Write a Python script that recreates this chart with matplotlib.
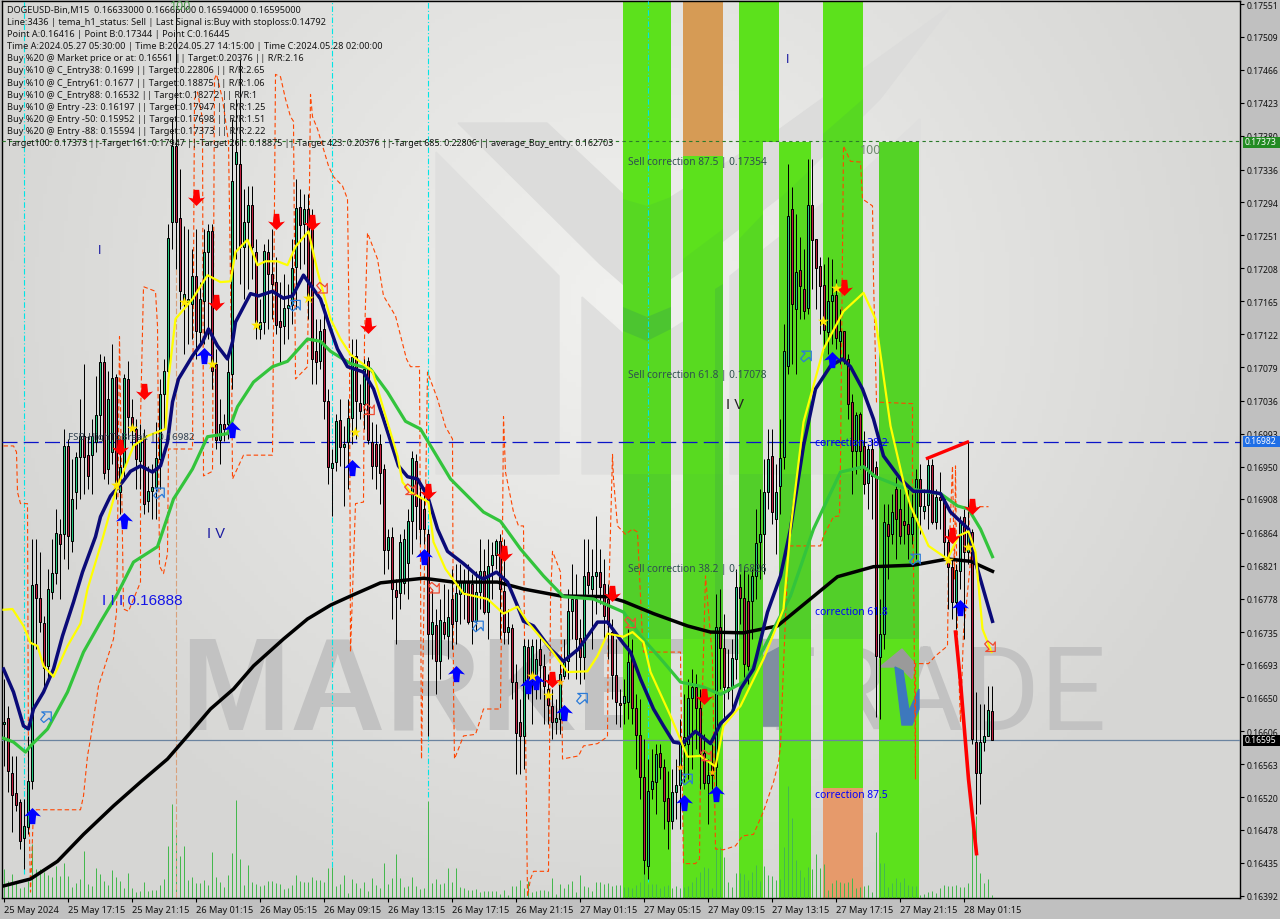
import numpy as np
from matplotlib import pyplot as plt
from matplotlib.path import Path
from matplotlib.patches import Polygon, Rectangle
from matplotlib.transforms import Affine2D

plt.rcParams['font.family'] = ['Noto Sans', 'DejaVu Sans']

# prices are in 1e-5 units, one row per 10 bars (M15 candles)
opens = [16615,16623,16552,16526,16514,16467,16482,16541,16798,16779,
 16747,16691,16787,16812,16863,16863,16977,16853,16917,16963,
 16990,16965,16965,16982,17017,17086,16947,16969,17067,16917,
 16950,17064,17015,16999,16957,16986,16905,16918,16924,16960,
 17044,17074,17268,17367,17273,17161,17164,17161,17198,17125,
 17165,17229,17256,17084,16985,17006,17006,17071,17344,17344,
 17236,17268,17290,17229,17129,17138,17229,17200,17190,17139,
 17133,17156,17160,17210,17288,17265,17285,17265,17100,17087,
 17129,17035,16948,16956,17011,16976,16982,17013,17094,17033,
 17032,17087,16982,16980,16980,16947,16842,16859,16790,16786,
 16799,16825,16879,16957,16911,16895,16863,16733,16744,16697,
 16748,16730,16778,16749,16785,16787,16801,16798,16749,16787,
 16814,16761,16822,16835,16853,16788,16735,16740,16670,16618,
 16600,16716,16678,16678,16713,16691,16661,16639,16618,16622,
 16678,16697,16762,16778,16727,16703,16813,16791,16808,16813,
 16798,16778,16735,16679,16643,16643,16644,16703,16636,16601,
 16547,16431,16531,16540,16578,16560,16519,16489,16527,16536,
 16588,16590,16649,16664,16636,16578,16539,16564,16560,16742,
 16714,16664,16664,16700,16794,16779,16775,16775,16808,16852,
 16863,16917,16964,16882,16925,16963,17081,17285,17155,17206,
 17181,17156,17290,17246,17211,17186,17125,17165,17173,17113,
 17126,17090,17034,16970,17018,16977,16929,16973,16950,16703,
 16733,16876,16863,16921,16895,16879,16876,16863,16885,16934,
 16892,16900,16952,16878,16911,16908,16852,16820,16774,16814,
 16885,16839,16865,16592,16552,16592,16600,16632]
highs = [16674,16639,16574,16574,16518,16518,16600,16856,16856,16839,
 16756,16817,16856,16895,16882,16999,16986,16960,16969,17038,
 17084,16990,17012,17068,17096,17094,17074,17110,17071,16986,
 17071,17087,17038,17012,17006,16999,16951,16953,17008,17064,
 17090,17265,17402,17545,17337,17263,17259,17233,17259,17190,
 17259,17265,17265,17103,17038,17018,17090,17402,17428,17480,
 17311,17315,17315,17246,17168,17240,17246,17259,17223,17190,
 17200,17188,17246,17324,17311,17304,17304,17285,17142,17142,
 17161,17051,16973,17018,17038,17003,17038,17116,17116,17058,
 17090,17093,17008,17006,16992,16953,16869,16872,16804,16863,
 16869,16895,16970,16966,16924,16924,16869,16791,16765,16778,
 16798,16791,16817,16824,16824,16817,16824,16811,16814,16856,
 16843,16856,16852,16856,16863,16856,16765,16746,16694,16648,
 16726,16726,16726,16726,16733,16706,16680,16661,16648,16694,
 16726,16791,16824,16811,16752,16856,16856,16843,16886,16843,
 16830,16798,16752,16726,16661,16674,16739,16726,16654,16648,
 16596,16570,16583,16590,16590,16570,16554,16557,16570,16622,
 16654,16674,16687,16680,16661,16603,16570,16590,16784,16791,
 16758,16713,16726,16817,16811,16817,16811,16817,16895,16921,
 16960,16999,16999,16953,17012,17135,17344,17314,17279,17249,
 17233,17350,17350,17246,17223,17213,17223,17220,17194,17155,
 17126,17096,17044,17021,17021,16996,16980,16986,16957,16778,
 16902,16902,16915,16937,16921,16915,16921,16915,16947,16953,
 16921,16960,16960,16921,16943,16912,16869,16830,16824,16886,
 16895,16982,16869,16657,16641,16641,16665,16665]
lows = [16561,16527,16475,16502,16453,16427,16473,16531,16713,16735,
 16657,16674,16778,16798,16778,16830,16817,16839,16895,16908,
 16915,16921,16915,16969,16986,16934,16928,16953,16908,16889,
 16934,16986,16973,16921,16921,16889,16891,16882,16882,16921,
 16999,17064,17233,17207,17155,17096,17110,17116,17090,17110,
 17110,17116,17051,16973,16953,16983,16986,17051,17220,17188,
 17168,17181,17194,17116,17116,17123,17129,17142,17123,17084,
 17110,17116,17136,17155,17207,17213,17142,17058,17058,17077,
 17012,16928,16886,16944,16951,16899,16921,16980,16986,17012,
 16999,16980,16934,16921,16902,16811,16817,16752,16720,16765,
 16784,16778,16836,16856,16850,16850,16600,16700,16654,16674,
 16726,16700,16713,16720,16746,16752,16746,16720,16736,16765,
 16758,16726,16778,16817,16726,16720,16720,16648,16550,16550,
 16557,16648,16616,16648,16648,16616,16616,16596,16603,16603,
 16674,16674,16726,16674,16668,16674,16784,16713,16758,16772,
 16726,16700,16648,16616,16612,16616,16622,16616,16557,16518,
 16421,16414,16518,16498,16544,16479,16453,16479,16492,16479,
 16540,16544,16557,16583,16531,16531,16485,16531,16531,16661,
 16622,16648,16635,16674,16746,16674,16668,16726,16778,16804,
 16811,16895,16876,16836,16889,16947,17071,17084,17071,17142,
 17142,17149,17181,17155,17123,17103,17096,17110,17103,17084,
 17084,17012,16915,16940,16947,16915,16895,16882,16625,16622,
 16713,16804,16850,16830,16850,16850,16830,16850,16830,16863,
 16882,16869,16875,16869,16869,16830,16765,16752,16739,16791,
 16726,16824,16590,16498,16512,16580,16600,16595]
closes = [16618,16554,16523,16510,16463,16483,16541,16796,16779,16748,
 16688,16791,16812,16864,16850,16977,16860,16908,16963,16990,
 16963,16938,16990,17017,17086,16942,17038,17065,16930,16950,
 17065,17015,17003,16960,16983,16902,16918,16924,16961,17044,
 17074,17247,17367,17268,17178,17175,17168,17198,17126,17168,
 17229,17256,17074,16985,17006,16999,17073,17321,17359,17236,
 17268,17290,17236,17138,17138,17230,17200,17188,17134,17132,
 17156,17160,17208,17286,17264,17285,17171,17090,17086,17126,
 17035,16950,16955,17009,16976,16980,17013,17093,17035,17022,
 17077,16985,16951,16951,16942,16842,16859,16791,16781,16852,
 16856,16879,16961,16899,16869,16869,16733,16748,16697,16751,
 16733,16755,16746,16786,16800,16801,16748,16749,16787,16814,
 16761,16821,16835,16853,16791,16735,16742,16670,16604,16600,
 16717,16670,16717,16700,16692,16665,16640,16618,16623,16680,
 16696,16762,16778,16726,16703,16808,16796,16808,16813,16794,
 16756,16746,16679,16644,16640,16652,16696,16636,16601,16547,
 16439,16528,16541,16577,16560,16515,16489,16527,16536,16590,
 16598,16649,16664,16636,16578,16539,16549,16549,16742,16714,
 16664,16658,16701,16794,16779,16694,16691,16808,16851,16863,
 16917,16960,16891,16917,16961,17100,17276,17161,17203,17185,
 17152,17290,17245,17208,17185,17128,17165,17173,17117,17126,
 17090,17032,16970,17017,16970,16928,16973,16938,16704,16733,
 16878,16860,16891,16882,16860,16874,16863,16885,16934,16899,
 16899,16952,16878,16911,16907,16852,16820,16774,16816,16879,
 16839,16865,16596,16552,16592,16600,16634,16595]
volumes = [29,17,24,16,10,11,17,54,29,29,26,23,21,32,22,35,22,11,15,19,
 47,14,12,30,24,17,13,28,21,17,10,25,10,6,7,16,7,8,8,13,
 19,52,94,67,42,52,18,21,15,15,18,13,46,21,16,11,23,45,98,39,
 13,33,16,14,12,13,17,17,15,14,9,10,13,23,17,16,16,21,18,18,
 16,30,31,12,14,23,5,19,15,10,16,7,20,13,10,35,14,20,44,20,
 11,12,21,12,9,10,97,15,19,14,15,30,16,30,11,10,8,8,9,6,
 7,7,7,7,4,8,3,12,12,18,10,17,6,7,8,8,7,20,4,14,
 10,14,17,6,23,12,11,7,16,16,14,15,12,13,13,11,11,10,13,16,
 28,14,14,14,10,12,13,10,12,10,11,12,16,21,26,31,30,10,51,51,
 41,16,11,25,25,24,18,26,33,17,32,23,22,18,19,51,112,80,38,28,
 21,31,29,44,30,34,8,15,18,16,15,16,20,10,11,12,13,6,66,35,
 35,11,15,20,16,20,13,12,12,3,4,6,7,5,10,13,12,12,13,11,
 11,15,89,82,25,15,19,3]

# indicator series, sampled at the bars where they bend
black_bar = [0,6.75,13.5,20,27.5,34.25,41,46,51.75,57.5,62.5,70,76,81.75,87.25,94.25,105,112.5,123.5,130,
 139.25,151,155,162.5,171,176.75,185,193.5,201,208.5,217.5,227.5,236,241.75,247.25]
black_price = [16405,16414,16437,16472,16509,16540,16570,16600,16635,16661,16691,16726,16752,16770,16783,16799,16805,16800,16800,16791,
 16782,16781,16775,16759,16743,16735,16734,16743,16775,16807,16820,16822,16830,16827,16814]

navy_bar = [0,2.5,5,6.25,7.5,10,12.5,14.75,17.5,19.75,23,24.25,26.75,29.75,31.75,34.25,37.25,39.25,41,42.25,
 43.75,47.25,49.75,51.25,53.5,56,57.25,58,61.75,63.75,67.25,70,72.25,75,79.25,81.75,83.5,86,90,92.5,
 95,98.75,101,103.5,106,108.5,111,115,118.5,120,123.25,126,128.5,130,132.5,136.75,140,143.75,148.5,151,
 155,156.75,159.25,162.5,165,167.5,169.75,173,176.75,179.25,182.25,184.25,187.5,191,194.25,196.75,200,203,206.75,209.75,
 211.75,214.75,217.5,220,224.25,227.5,231,234.25,236.75,241.25,243,247.25]
navy_price = [16687,16657,16613,16609,16635,16657,16687,16730,16774,16813,16859,16885,16912,16930,16944,16951,16943,16951,16982,17034,
 17064,17094,17112,17129,17107,17090,17112,17138,17175,17172,17178,17169,17172,17199,17168,17129,17103,17080,17073,17051,
 17012,16951,16937,16934,16912,16869,16840,16824,16808,16804,16813,16800,16769,16749,16743,16713,16697,16713,16748,16748,
 16720,16709,16674,16635,16613,16592,16590,16606,16590,16616,16631,16661,16687,16761,16808,16869,16977,17051,17081,17090,
 17080,17051,17012,16964,16934,16918,16918,16915,16891,16869,16826,16749]

yellow_bar = [0,2.25,5,6.75,8.5,10,12.5,16,19.25,21,24.75,28,32.5,36,40.5,41.25,43,47.25,51,54.25,
 56.75,58,61,63.5,65.5,68.5,71,73,76.25,78.5,81.75,84.25,86.75,92.25,95,98.5,99.75,101.75,106.25,107.5,
 110.5,115,121,125,128.5,131,136.75,141,146,148.5,151,155,157.25,160,161.75,166.75,171,174.25,178,180,
 184.25,190,195,196.75,200,205,210,215,218,221.75,225,226.75,231.25,236,238.75,241.25,243,244.75,247]
yellow_price = [16764,16765,16743,16721,16717,16691,16677,16717,16746,16791,16856,16917,16977,16990,16999,17064,17142,17168,17199,17190,
 17191,17229,17245,17212,17217,17217,17212,17236,17256,17204,17142,17116,17096,17074,17025,16964,16930,16917,16904,16852,
 16817,16785,16778,16759,16768,16748,16713,16683,16684,16704,16733,16729,16735,16722,16683,16626,16573,16574,16560,16613,
 16639,16700,16765,16869,17008,17103,17152,17176,17142,17003,16930,16899,16847,16830,16860,16866,16839,16739,16709]

green_bar = [0,2.5,5.5,6.75,11,16,20,24.25,28.5,32.5,38.5,42.5,47.25,51,56,58.5,62.5,67.25,71,76,
 79.25,81.75,86.75,91.75,96,100.5,104.25,111.75,120,124.25,129.25,135,140,147.5,155,159.25,165,169.25,174.75,179.25,
 185,190,196.75,202.5,209.25,215,218,224.25,231,234.25,238.5,241.25,244.25,247.25]
green_price = [16597,16592,16579,16587,16609,16657,16709,16748,16785,16826,16846,16908,16947,16989,16993,17028,17060,17080,17087,17116,
 17113,17100,17084,17077,17047,17009,16999,16934,16891,16879,16843,16808,16781,16778,16761,16730,16696,16670,16664,16654,
 16670,16713,16782,16869,16943,16950,16937,16924,16917,16915,16899,16895,16869,16833]

orange_bar = [0,2.5,3.25,3.5,4.25,6,6.25,6.75,7.5,19.25,20,21,21.75,23.75,27.5,28.25,28.5,29,29.75,30,
 31.25,34.25,34.25,35,38,38.5,39,40,41,41.25,47.25,47.75,48.5,49.75,50,52.25,52.75,53.25,54.75,56.25,
 57,57.25,60,67.25,68,69.25,70.5,71.75,72.5,73,76,76.75,77.25,78.5,81.25,82.5,84.75,86,86.5,86.75,
 88,90,90.25,91,93.5,95,98,100.75,101.75,104,104.5,106,108.5,110.5,112.25,112.5,112.75,115,118,119.25,
 120,124.25,124.75,125,125.5,127.5,128.75,130,130.25,131,131.75,132.5,136.25,136.5,136.75,137.25,139.25,139.75,143.75,145,
 148.5,151,151.25,152.25,152.5,153.5,155.5,157.25,158.5,159.75,160,169.25,169.5,170,173,174,174.25,175.5,177.25,178,
 180,183,184.75,187.5,190,192.5,193.75,194.25,195,196.25,204.25,205,207.5,209,209.25,210,211.75,214.25,214.75,217.25,
 217.5,218.25,227.25,227.25,227.5,228,228,231.25,233,236,236.25,237.25,237.75,238,238.5,239.25,240,241.75,241.25,246.25]
orange_price = [16977,16977,16969,16917,16902,16902,16544,16397,16504,16504,16522,16574,16596,16665,16726,16761,16856,17119,16856,16765,
 16762,16800,17012,17184,17178,17133,16821,16811,16837,16973,16973,17428,17437,17402,16938,16944,17454,17460,17428,17372,
 17103,16934,16965,16965,17460,17457,17428,17405,17399,17064,17080,17434,17405,17389,17341,17327,17315,17298,17090,16709,
 16902,16904,17116,17254,17220,17172,17146,17090,17080,17080,16570,17073,17038,17002,16986,16661,16570,16600,16602,16622,
 16635,16635,16865,17015,16943,16891,16873,16873,16726,16392,16414,16424,16424,16570,16778,16840,16813,16570,16574,16587,
 16590,16599,16769,16966,16934,16873,16862,16869,16865,16726,16709,16709,16605,16434,16434,16440,16561,16808,16700,16453,
 16452,16457,16470,16472,16502,16540,16566,16587,16691,16847,16847,16860,16885,16886,16956,17367,17347,17346,17298,17289,
 17194,17034,17032,16912,16821,16544,16694,16694,16704,16717,16821,16951,16804,16951,16726,16618,16735,16826,16898,16898]

red_top_bar = [231, 241]
red_top_price = [16961, 16982]
red_drop_bar = [238, 239.25, 241.25, 243.25]
red_drop_price = [16735, 16670, 16544, 16447]

# signal markers
sell_bar = [29,35,48,53,68,77,91,106,125,137,152,175,210,237,242]
sell_price = [16976,17048,17301,17164,17269,17268,17134,16918,16838,16674,16786,16652,17184,16861,16899]
buy_bar = [7,30,50,57,87,105,113,131,133,140,170,178,207,239]
buy_price = [16496,16879,17094,16998,16948,16833,16681,16665,16670,16630,16513,16525,17089,16766]
star_bar = [28,32,45,52,63,76,87.75,132,136,204.75,208,236,241]
star_price = [16926,17000,17164,17084,17134,17169,16995,16678,16653,17139,17182,16829,16846]
small_star_bar = [139,169,177]
small_star_price = [16670,16560,16553]
open_buy_bar = [10.75,39,73,118.75,144.75,171,200.75,228]
open_buy_price = [16625,16916,17160,16743,16649,16544,17094,16830]
open_sell_bar = [79.75,91.5,101.75,107.75,156.75,175.75,246.75]
open_sell_price = [17182,17024,16920,16792,16747,16574,16716]

# axis labels
y_tick_values = [17551,17509,17466,17423,17380,17336,17294,17251,17208,17165,17122,17079,17036,16993,
 16950,16908,16864,16821,16778,16735,16693,16650,16606,16563,16520,16478,16435,16392]
x_tick_labels = ['25 May 2024','25 May 17:15','25 May 21:15','26 May 01:15','26 May 05:15','26 May 09:15',
 '26 May 13:15','26 May 17:15','26 May 21:15','27 May 01:15','27 May 05:15','27 May 09:15',
 '27 May 13:15','27 May 17:15','27 May 21:15','28 May 01:15']

info_lines = ['DOGEUSD-Bin,M15  0.16633000 0.16665000 0.16594000 0.16595000',
 'Line:3436 | tema_h1_status: Sell | Last Signal is:Buy with stoploss:0.14792',
 'Point A:0.16416 | Point B:0.17344 | Point C:0.16445',
 'Time A:2024.05.27 05:30:00 | Time B:2024.05.27 14:15:00 | Time C:2024.05.28 02:00:00',
 'Buy %20 @ Market price or at: 0.16561 || Target:0.20376 || R/R:2.16',
 'Buy %10 @ C_Entry38: 0.1699 || Target:0.22806 || R/R:2.65',
 'Buy %10 @ C_Entry61: 0.1677 || Target:0.18875 || R/R:1.06',
 'Buy %10 @ C_Entry88: 0.16532 || Target:0.18272 || R/R:1',
 'Buy %10 @ Entry -23: 0.16197 || Target:0.17947 || R/R:1.25',
 'Buy %20 @ Entry -50: 0.15952 || Target:0.17698 || R/R:1.51',
 'Buy %20 @ Entry -88: 0.15594 || Target:0.17373 || R/R:2.22',
 'Target100: 0.17373 ||-Target 161: 0.17947 ||-Target 261: 0.18875 ||-Target 423: 0.20376 ||-Target 685: 0.22806 || average_Buy_entry: 0.162703']


def to_price(values):
    return np.array(values) / 1e5


W, H = 1280, 920
fig = plt.figure(figsize=(W / 100, H / 100), dpi=100, facecolor='#c0c0c0')
ax = fig.add_axes([2 / W, (H - 899) / H, 1238 / W, 897 / H])
# half a pixel of shift so one pixel wicks land on whole pixels
x_lim = (-0.375, 309.125)
y_lim = (0.163893, 0.175554)

# screen pixels, y going down, for the decoration and the loose labels
px = Affine2D().scale(1, -1).translate(0, H)

yy, xx = np.mgrid[2:899:200j, 2:1240:300j]
r = np.sqrt(((xx - 620) / 660) ** 2 + ((yy - 300) / 640) ** 2)
shade = 241 - 27 * np.clip(r, 0, 1)
ax.imshow(np.dstack([shade, shade, shade - 2]) / 255, extent=(*x_lim, *y_lim), aspect='auto', zorder=0)

# watermark sits under the bands
ax.text(180, 730, 'MARKET', transform=px, fontsize=95, fontweight='bold', family='Liberation Sans',
        color='#c2c2c2', va='baseline', ha='left', zorder=1)
ax.text(1106, 730, 'TRADE', transform=px, fontsize=84, fontweight='normal', family='Roboto',
        color='#c2c2c2', va='baseline', ha='right', zorder=1)
ax.add_patch(Polygon([(748, 640), (780, 640), (780, 727), (748, 727)], transform=px, color='#b4b7ba', zorder=1.1))
ax.add_patch(Polygon([(748, 665), (780, 648), (780, 727), (748, 727)], transform=px, color='#7f8ea0', zorder=1.1))

# faint logo under the bands
for pts in [[(436, 153), (559, 277), (559, 475), (436, 475)],
            [(582, 298), (640, 350), (720, 300), (720, 475), (582, 475)],
            [(730, 277), (860, 175), (920, 120), (920, 475), (730, 475)]]:
    ax.add_patch(Polygon(pts, transform=px, color='#dfdfde', zorder=1))
ax.add_patch(Polygon([(458, 124), (547, 124), (628, 200), (660, 205), (780, 130), (951, 7), (880, 100),
                      (790, 190), (700, 260), (640, 300), (600, 265)], transform=px, color='#dcdcdb', zorder=1))

# correction bands: x from, x to, y from, y to, colour
bands = [(623, 671, 2, 899, '#5ce11c'), (683, 723, 2, 157, '#d69b55'), (683, 723, 157, 899, '#5ce11c'),
         (739, 779, 2, 143, '#5ce11c'), (739, 763, 143, 899, '#5ce11c'), (779, 811, 143, 899, '#5ce11c'),
         (823, 863, 2, 789, '#5ce11c'), (823, 863, 789, 899, '#e69a6b'), (879, 919, 143, 899, '#5ce11c')]
for x0, x1, y0, y1, c in bands:
    ax.add_patch(Rectangle((x0, y0), x1 - x0, y1 - y0, transform=px, color=c, lw=0, zorder=2))

# darker logo shapes showing through the green: pts, strength
logo_dark = [([(623, 200), (647, 207), (671, 198), (671, 475), (623, 475)], 0.08),
             ([(623, 308), (647, 318), (671, 308), (671, 330), (647, 342), (623, 332)], 0.2),
             ([(683, 260), (723, 230), (723, 475), (683, 475)], 0.06),
             ([(715, 290), (723, 285), (723, 640), (715, 640)], 0.15),
             ([(739, 240), (763, 215), (763, 475), (739, 475)], 0.08),
             ([(779, 200), (811, 170), (811, 475), (779, 475)], 0.06),
             ([(823, 135), (863, 100), (863, 475), (823, 475)], 0.08),
             ([(879, 143), (919, 143), (919, 475), (879, 475)], 0.13),
             ([(623, 475), (671, 475), (671, 640), (623, 640)], 0.17),
             ([(683, 475), (723, 475), (723, 640), (683, 640)], 0.1),
             ([(739, 475), (763, 475), (763, 640), (739, 640)], 0.17),
             ([(779, 475), (811, 475), (811, 640), (779, 640)], 0.17),
             ([(823, 475), (863, 475), (863, 640), (823, 640)], 0.17),
             ([(879, 475), (919, 475), (919, 640), (879, 640)], 0.17)]
for pts, strength in logo_dark:
    ax.add_patch(Polygon(pts, transform=px, color='#2f8f5a', alpha=strength * 1.3, lw=0, zorder=2.1))
ax.add_patch(Polygon([(880, 668), (902, 650), (915, 665), (912, 680), (900, 668)], transform=px, color='#9a9a9a', zorder=2.2))
ax.add_patch(Polygon([(895, 668), (903, 672), (909, 712), (919, 690), (919, 710), (912, 726), (902, 726)],
                     transform=px, color='#3d78bd', zorder=2.2))

bars = np.arange(len(opens))
o, h, l, c = to_price(opens), to_price(highs), to_price(lows), to_price(closes)

# tick volume along the bottom edge
ax.vlines(bars, y_lim[0], y_lim[0] + np.array(volumes) * 1.3e-5, color='#45b84e', lw=0.72, zorder=3)

# session markers
ax.vlines([5, 82, 106, 161], [0.16420, 0.16430, 0.16520, 0.16410], y_lim[1], color='#00e6e6', lw=0.8,
          linestyles=(0, (5, 2, 1, 2)), zorder=3)
ax.vlines(43, 0.16390, 0.17250, color='#d9a07a', lw=0.8, linestyles=(0, (5, 2)), zorder=3)

ax.axhline(0.17373, color='#2a7a2a', lw=0.8, ls=(0, (3, 3)), zorder=3)
ax.axhline(0.16982, color='#0a14c8', lw=0.9, ls=(0, (12, 5)), zorder=3)
ax.axhline(0.16595, color='#6b84a0', lw=0.9, zorder=3)

ax.plot(orange_bar, to_price(orange_price), color='#ff4500', lw=0.8, ls=(0, (4, 2.5)), zorder=3.5)

# candles
up = c >= o
ax.vlines(bars, l, h, color='black', lw=0.72, zorder=4)
ax.bar(bars, np.abs(c - o), bottom=np.minimum(o, c), width=0.5, color=np.where(up, '#22c67c', '#c01f3f'),
       edgecolor='black', linewidth=0.72, zorder=4.1, snap=True)

ax.plot(black_bar, to_price(black_price), color='black', lw=2.5, zorder=5)
ax.plot(green_bar, to_price(green_price), color='#33c43c', lw=2.3, zorder=5.1)
ax.plot(navy_bar, to_price(navy_price), color='#0a0a78', lw=2.5, zorder=5.2)
ax.plot(yellow_bar, to_price(yellow_price), color='#ffff00', lw=1.6, zorder=5.3)
ax.plot(red_top_bar, to_price(red_top_price), color='#ff0000', lw=2.4, zorder=5.4)
ax.plot(red_drop_bar, to_price(red_drop_price), color='#ff0000', lw=2.6, zorder=5.4)

up_arrow = Path([(0, 1), (1, 0), (0.42, 0.12), (0.32, -0.9), (-0.32, -0.9), (-0.42, 0.12), (-1, 0), (0, 1)], closed=True)
down_arrow = up_arrow.transformed(Affine2D().scale(1, -1))
open_up = up_arrow.transformed(Affine2D().rotate_deg(-45))
open_down = up_arrow.transformed(Affine2D().rotate_deg(-135))

ax.scatter(sell_bar, to_price(sell_price), marker=down_arrow, s=150, color='#ff0000', lw=0, zorder=6)
ax.scatter(buy_bar, to_price(buy_price), marker=up_arrow, s=150, color='#0000ff', lw=0, zorder=6)
ax.scatter(star_bar, to_price(star_price), marker='*', s=70, color='#ffe600', lw=0, zorder=6)
ax.scatter(small_star_bar, to_price(small_star_price), marker='*', s=35, color='#ffb000', lw=0, zorder=6)
ax.scatter(open_buy_bar, to_price(open_buy_price), marker=open_up, s=70, facecolor='none', edgecolor='#2b7bd8', lw=0.9, zorder=6)
ax.scatter(open_sell_bar, to_price(open_sell_price), marker=open_down, s=70, facecolor='none', edgecolor='#f04a30', lw=0.9, zorder=6)

ax.set_xlim(*x_lim)
ax.set_ylim(*y_lim)

# loose labels
for i, line in enumerate(info_lines[:11]):
    ax.text(7, 10.5 + i * 12.1, line, transform=px, fontsize=6.6, color='#141414', va='center', zorder=8)
ax.text(7, 143.5, info_lines[11], transform=px, fontsize=6.4, color='#141414', va='center', zorder=8)

for y, s in [(163, 'Sell correction 87.5 | 0.17354'), (376, 'Sell correction 61.8 | 0.17078'),
             (570, 'Sell correction 38.2 | 0.16826')]:
    ax.text(628, y, s, transform=px, fontsize=7.3, color='#2f4f4f', va='center', zorder=8)
for y, s in [(444, 'correction 38.2'), (613, 'correction 61.8'), (796, 'correction 87.5')]:
    ax.text(815, y, s, transform=px, fontsize=7.4, color='#0000ff', va='center', zorder=8)
ax.text(860, 151, '100', transform=px, fontsize=9, color='#6e8a6e', va='center', zorder=8)
ax.text(170, 7, '100', transform=px, fontsize=9, color='#4e9a4e', va='center', zorder=8)
ax.text(68, 438, 'FSB-HighToBreak | 0.16982', transform=px, fontsize=7, color='#2f3f4f', va='center', zorder=8)
ax.text(98, 251, 'I', transform=px, fontsize=9, color='#1a1aa0', family='Liberation Sans', va='center', zorder=8)
ax.text(207, 534, 'I V', transform=px, fontsize=10.5, color='#1a1aa0', family='Liberation Sans', va='center', zorder=8)
ax.text(102, 601, 'I I I 0.16888', transform=px, fontsize=11, color='#1414e6', family='Liberation Sans', va='center', zorder=8)
ax.text(786, 60, 'I', transform=px, fontsize=9, color='#1a1aa0', family='Liberation Sans', va='center', zorder=8)
ax.text(726, 405, 'I V', transform=px, fontsize=10.5, color='#222222', family='Liberation Sans', va='center', zorder=8)

# axes furniture
ax.yaxis.tick_right()
ax.set_yticks(to_price(y_tick_values))
ax.set_yticklabels([f'{v / 1e5:.5f}' for v in y_tick_values], fontsize=6.2, color='#101010')
ax.set_xticks(np.arange(len(x_tick_labels)) * 16)
ax.set_xticklabels(x_tick_labels, fontsize=6.6, color='#101010', ha='left')
ax.tick_params(axis='y', length=3, width=0.8, pad=2)
ax.tick_params(axis='x', length=3, width=0.8, pad=2)
for s in ax.spines.values():
    s.set_linewidth(1.0)
    s.set_color('black')

# price badges on the right scale
for price, y, bg in [('0.17373', 143, '#228b22'), ('0.16982', 442, '#1e6ee6'), ('0.16595', 741, '#000000')]:
    ax.add_patch(Rectangle((1243, y - 5.5), 37, 11, transform=px, color=bg, lw=0, clip_on=False, zorder=9))
    ax.text(1245, y, price, transform=px, fontsize=6.2, color='white', va='center', clip_on=False, zorder=10)

fig.savefig('out.png', dpi=100, facecolor=fig.get_facecolor())
